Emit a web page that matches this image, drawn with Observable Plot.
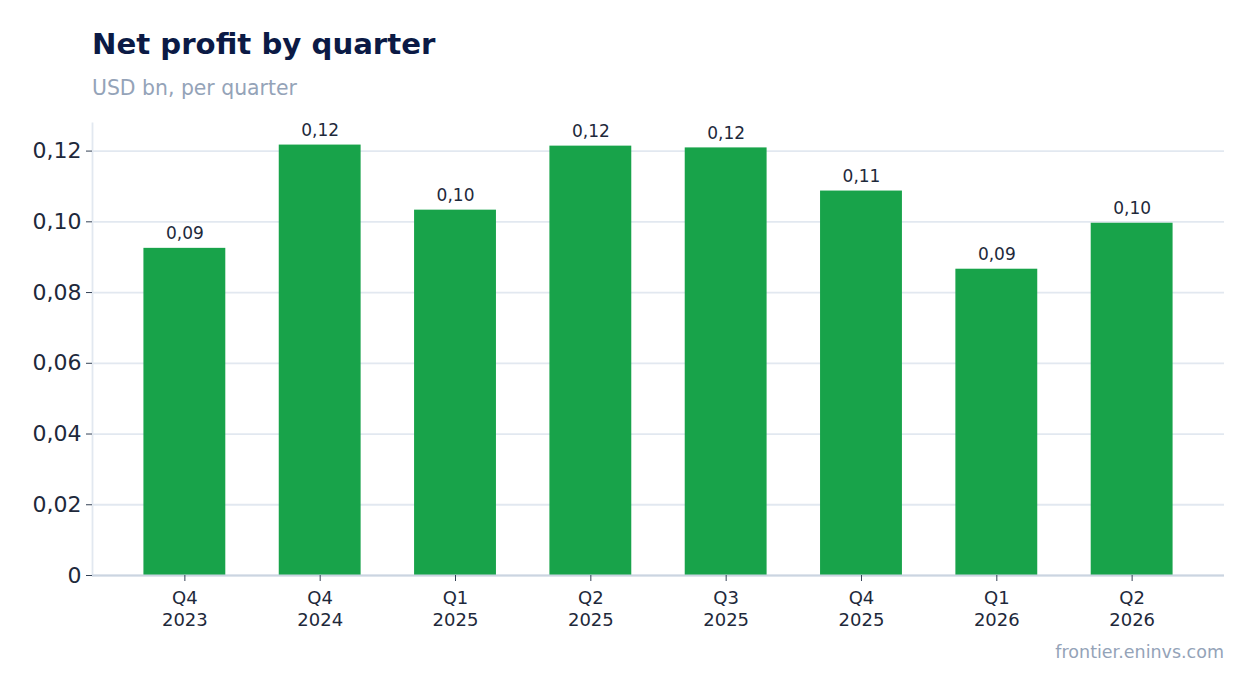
<!DOCTYPE html>
<html>
<head>
<meta charset="utf-8">
<script src="https://cdn.jsdelivr.net/npm/d3@7"></script>
<script src="https://cdn.jsdelivr.net/npm/@observablehq/plot@0.6"></script>
<style>
  html, body { margin: 0; padding: 0; background: #fff; }
  body { width: 1254px; height: 693px; position: relative; overflow: hidden; font-family: "DejaVu Sans", sans-serif; }
  #title { position: absolute; left: 92px; top: 25px; font-size: 29.2px; font-weight: bold; color: #0b1a45; line-height: 38px; white-space: nowrap; }
  #subtitle { position: absolute; left: 92px; top: 76px; font-size: 20.4px; color: #94a3b8; line-height: 24px; white-space: nowrap; }
  #chart { position: absolute; left: 0; top: 110px; }
  #caption { position: absolute; right: 30px; top: 641px; font-size: 17.5px; color: #94a3b8; line-height: 22px; white-space: nowrap; }
</style>
</head>
<body>
<div id="title">Net profit by quarter</div>
<div id="subtitle">USD bn, per quarter</div>
<div id="chart"></div>
<div id="caption">frontier.eninvs.com</div>
<script>
const quarters = ["Q4\n2023", "Q4\n2024", "Q1\n2025", "Q2\n2025", "Q3\n2025", "Q4\n2025", "Q1\n2026", "Q2\n2026"];
const profits = [0.0925, 0.1217, 0.1033, 0.1214, 0.1209, 0.1087, 0.0866, 0.0996];
const yTicks = [0, 0.02, 0.04, 0.06, 0.08, 0.10, 0.12];

const data = quarters.map((q, i) => ({q, v: profits[i]}));
const fmtTick = v => v === 0 ? "0" : v.toFixed(2).replace(".", ",");
const fmtLabel = v => v.toFixed(2).replace(".", ",");

const plot = Plot.plot({
  width: 1254,
  height: 560,
  marginLeft: 92,
  marginRight: 30,
  marginTop: 13,
  marginBottom: 95,
  style: { fontFamily: "DejaVu Sans, sans-serif", background: "transparent", overflow: "visible" },
  x: { domain: quarters, paddingInner: 0.395, paddingOuter: 0.38, round: false, label: null },
  y: { domain: [0, 0.1278], label: null },
  marks: [
    Plot.gridY(yTicks, { stroke: "#e2e8f0", strokeOpacity: 1, strokeWidth: 1.8 }),
    Plot.frame({ anchor: "left", stroke: "#e2e8f0", strokeWidth: 1.8 }),
    Plot.barY(data, { x: "q", y: "v", fill: "#18a34a" }),
    Plot.ruleY([0], { stroke: "#cbd5e1", strokeWidth: 1.8 }),
    Plot.text(data, { x: "q", y: "v", text: d => fmtLabel(d.v), lineAnchor: "bottom", dy: -9, fontSize: 17, fill: "#1e293b" }),
    Plot.axisY(yTicks, { tickFormat: fmtTick, tickSize: 6, tickPadding: 5, fontSize: 22, color: "#1e293b", stroke: "#334155", label: null }),
    Plot.axisX({ tickSize: 6, tickPadding: 8, fontSize: 18, color: "#1e293b", stroke: "#334155", label: null, lineHeight: 1.17 })
  ]
});
document.getElementById("chart").appendChild(plot);
</script>
</body>
</html>
